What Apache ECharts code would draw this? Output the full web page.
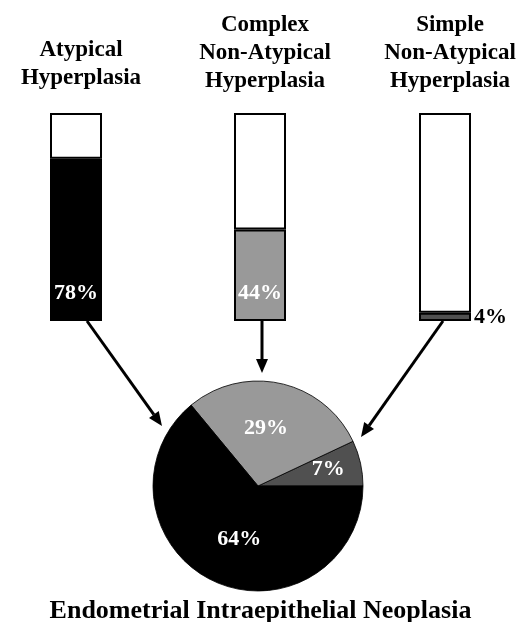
<!DOCTYPE html>
<html>
<head>
<meta charset="utf-8">
<script src="https://cdn.jsdelivr.net/npm/echarts@6/dist/echarts.min.js"></script>
<style>
html,body{margin:0;padding:0;background:#fff;}
#chart{width:521px;height:622px;}
</style>
</head>
<body>
<div id="chart"></div>
<script>
var groups = ['Atypical\nHyperplasia', 'Complex\nNon-Atypical\nHyperplasia', 'Simple\nNon-Atypical\nHyperplasia'];
var einPercent = [78, 44, 4];
var restPercent = [22, 56, 96];
var barColors = ['#000000', '#999999', '#505050'];
var pieNames = ['Simple', 'Complex', 'Atypical'];
var pieValues = [7, 29, 64];
var pieColors = ['#505050', '#999999', '#000000'];
var bottomTitle = 'Endometrial Intraepithelial Neoplasia';

var font = '"Liberation Serif", "Times New Roman", serif';
var barLefts = [50, 234, 419];
var barW = 52, barTop = 113, barH = 208;
var pieC = [258, 486], pieR = 105;
// small nudges so the pie labels sit where the original put them
var pieLabelOffsets = [[16, -5], [-4, -4], [5, 3]];

var myChart = echarts.init(document.getElementById('chart'));
var grid = [], xAxis = [], yAxis = [], series = [], title = [];

groups.forEach(function (name, i) {
    grid.push({left: barLefts[i], top: barTop, width: barW, height: barH});
    xAxis.push({type: 'category', gridIndex: i, data: [name], show: false});
    yAxis.push({type: 'value', gridIndex: i, min: 0, max: 100, show: false});
    series.push({
        type: 'bar', xAxisIndex: i, yAxisIndex: i, stack: 's' + i,
        barWidth: '100%', data: [einPercent[i]],
        itemStyle: {color: barColors[i], borderColor: '#000', borderWidth: 2},
        label: {
            show: true,
            position: i == 2 ? 'right' : 'insideBottom',
            distance: i == 2 ? 3 : 17,
            formatter: '{c}%',
            color: i == 2 ? '#000' : '#fff',
            fontFamily: font, fontWeight: 'bold', fontSize: 22
        }
    });
    series.push({
        type: 'bar', xAxisIndex: i, yAxisIndex: i, stack: 's' + i,
        barWidth: '100%', data: [restPercent[i]],
        itemStyle: {color: '#fff', borderColor: '#000', borderWidth: 2}
    });
    var lines = name.split('\n').length;
    title.push({
        text: name, left: barLefts[i] + barW / 2, top: (lines == 2 ? 31 : 6),
        textAlign: 'center',
        textStyle: {fontFamily: font, fontWeight: 'bold', fontSize: 23, lineHeight: 28, color: '#000'}
    });
});

title.push({
    text: bottomTitle, left: 'center', top: 593,
    textStyle: {fontFamily: font, fontWeight: 'bold', fontSize: 26, color: '#000'}
});

series.push({
    type: 'pie', center: pieC, radius: pieR,
    startAngle: 0, clockwise: false, silent: true,
    itemStyle: {borderColor: '#000', borderWidth: 0.8},
    label: {
        show: true, position: 'inside', formatter: '{c}%',
        color: '#fff', fontFamily: font, fontWeight: 'bold', fontSize: 22
    },
    labelLine: {show: false},
    data: pieValues.map(function (v, i) {
        return {
            name: pieNames[i], value: v,
            itemStyle: {color: pieColors[i]},
            label: {offset: pieLabelOffsets[i]}
        };
    })
});

// arrows from the bars down to the pie
var arrows = [
    [[87, barTop + barH], [162, 426]],
    [[262, barTop + barH], [262, 373]],
    [[443, barTop + barH], [361, 437]]
];
var graphic = [];
arrows.forEach(function (a) {
    var p0 = a[0], p1 = a[1];
    var ang = Math.atan2(p1[1] - p0[1], p1[0] - p0[0]);
    var len = 14, half = 6;
    var bx = p1[0] - len * Math.cos(ang), by = p1[1] - len * Math.sin(ang);
    graphic.push({
        type: 'line', shape: {x1: p0[0], y1: p0[1], x2: bx, y2: by},
        style: {stroke: '#000', lineWidth: 3}
    });
    graphic.push({
        type: 'polygon',
        shape: {points: [p1,
            [bx + half * Math.sin(ang), by - half * Math.cos(ang)],
            [bx - half * Math.sin(ang), by + half * Math.cos(ang)]]},
        style: {fill: '#000'}
    });
});

var option = {
    animation: false,
    title: title,
    grid: grid,
    xAxis: xAxis,
    yAxis: yAxis,
    series: series,
    graphic: graphic
};
myChart.setOption(option);
</script>
</body>
</html>
